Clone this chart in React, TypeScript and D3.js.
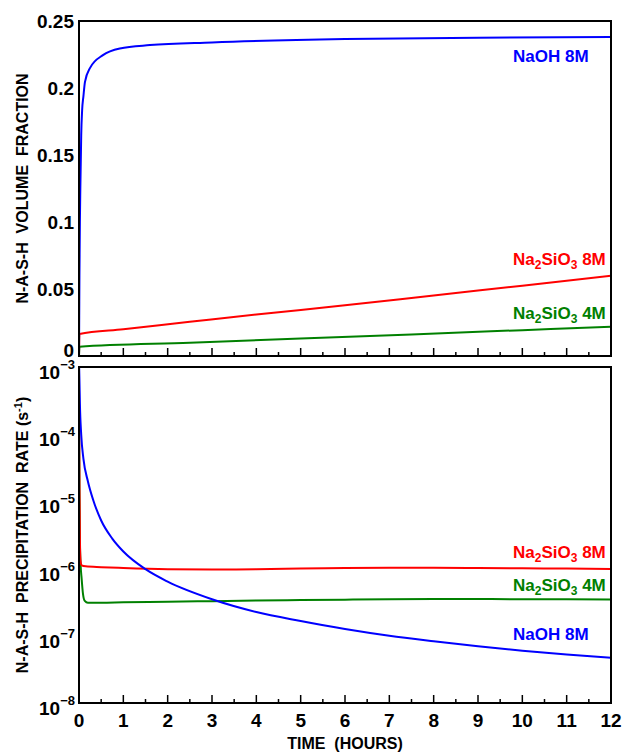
import React from "react";
import * as d3 from "d3";

// ---------- data ----------
const xTickValues = [0, 1, 2, 3, 4, 5, 6, 7, 8, 9, 10, 11, 12];
const xMinorValues = [0.5, 1.5, 2.5, 3.5, 4.5, 5.5, 6.5, 7.5, 8.5, 9.5, 10.5, 11.5];

const volTickValues = [0, 0.05, 0.1, 0.15, 0.2, 0.25];
const volTickLabels = ["0", "0.05", "0.1", "0.15", "0.2", "0.25"];

const rateTickValues = [1e-3, 1e-4, 1e-5, 1e-6, 1e-7, 1e-8];
const rateTickExponents = ["−3", "−4", "−5", "−6", "−7", "−8"];

// Volume fraction (top panel)
const naohVolTime = [0, 0.005, 0.01, 0.02, 0.03, 0.05, 0.07, 0.1, 0.135, 0.25, 0.54, 0.92, 1.6, 3, 6, 9, 12];
const naohVol = [0, 0.03, 0.06, 0.1, 0.125, 0.165, 0.183, 0.194, 0.2046, 0.215, 0.2245, 0.2295, 0.232, 0.234, 0.2365, 0.2375, 0.238];

const si8VolTime = [0, 0.01, 1, 2.5, 4, 6, 8, 10, 12];
const si8Vol = [0, 0.0164, 0.02, 0.0255, 0.031, 0.0378, 0.0452, 0.0525, 0.0599];

const si4VolTime = [0, 0.01, 2.5, 5, 7.5, 10, 12];
const si4Vol = [0, 0.0069, 0.0099, 0.013, 0.0161, 0.0193, 0.0219];

// Precipitation rate (bottom panel)
const naohRateTime = [0, 0.01, 0.02, 0.05, 0.1, 0.2, 0.32, 0.5, 0.75, 1, 1.5, 2, 3, 4, 5, 6, 7, 8, 9, 10, 11, 12];
const naohRate = [1.26e-3, 6.3e-4, 2.9e-4, 9.8e-5, 4.3e-5, 2.0e-5, 1.05e-5, 5.2e-6, 2.8e-6, 1.8e-6, 9.8e-7, 6.4e-7, 3.5e-7, 2.26e-7, 1.66e-7, 1.26e-7, 1.0e-7, 8.3e-8, 7.0e-8, 6.0e-8, 5.25e-8, 4.7e-8];

const si8RateTime = [0, 0.005, 0.01, 0.02, 0.035, 0.06, 0.15, 0.5, 1, 2, 3, 4, 5, 6, 7, 8, 9, 10, 11, 12];
const si8Rate = [5e-4, 1e-4, 1.8e-5, 3e-6, 1.3e-6, 1.12e-6, 1.08e-6, 1.05e-6, 1.02e-6, 9.8e-7, 9.7e-7, 9.8e-7, 1.0e-6, 1.02e-6, 1.03e-6, 1.03e-6, 1.02e-6, 1.01e-6, 1.0e-6, 9.9e-7];

const si4RateTime = [0, 0.005, 0.01, 0.02, 0.035, 0.06, 0.09, 0.13, 0.2, 0.5, 1, 2, 3, 4, 5, 6, 7, 8, 9, 10, 11, 12];
const si4Rate = [4e-4, 8e-5, 1.5e-5, 2.6e-6, 1.2e-6, 7e-7, 4.2e-7, 3.3e-7, 3.1e-7, 3.1e-7, 3.15e-7, 3.2e-7, 3.28e-7, 3.35e-7, 3.4e-7, 3.45e-7, 3.5e-7, 3.52e-7, 3.52e-7, 3.5e-7, 3.5e-7, 3.48e-7];

const BLUE = "#0000ff";
const RED = "#ff0000";
const GREEN = "#008000";

// ---------- layout ----------
const W = 623;
const H = 752;
const left = 79;
const right = 611;
const topA = 21;
const botA = 356;
const topB = 367;
const botB = 703;
const FONT = "'Liberation Sans', Arial, Helvetica, sans-serif";

const x = d3.scaleLinear().domain([0, 12]).range([left, right]);
const yVol = d3.scaleLinear().domain([0, 0.25]).range([botA, topA]);
const yRate = d3.scaleLog().domain([1e-8, 1e-3]).range([botB, topB]);

function zip(t: number[], v: number[]): [number, number][] {
  return t.map((ti, i) => [ti, v[i]]);
}

const lineVol = d3
  .line<[number, number]>()
  .x((d) => x(d[0]))
  .y((d) => yVol(d[1]))
  .curve(d3.curveMonotoneX);

const lineRate = d3
  .line<[number, number]>()
  .x((d) => x(d[0]))
  .y((d) => yRate(d[1]))
  .curve(d3.curveMonotoneX);

function Ticks({ y }: { y: number }) {
  return (
    <g stroke="#000" strokeWidth={1.5}>
      {xTickValues.map((t) => (
        <line key={"M" + t} x1={x(t)} x2={x(t)} y1={y} y2={y - 8} />
      ))}
      {xMinorValues.map((t) => (
        <line key={"m" + t} x1={x(t)} x2={x(t)} y1={y} y2={y - 4} />
      ))}
    </g>
  );
}

function SiLabel({ x0, y0, color, suffix }: { x0: number; y0: number; color: string; suffix: string }) {
  return (
    <text x={x0} y={y0} fill={color} fontSize={17} fontWeight="bold" fontFamily={FONT}>
      Na
      <tspan fontSize={12} dy={4}>2</tspan>
      <tspan dy={-4}>SiO</tspan>
      <tspan fontSize={12} dy={4}>3</tspan>
      <tspan dy={-4}>{" " + suffix}</tspan>
    </text>
  );
}

export default function App() {
  return (
    <svg
      width={W}
      height={H}
      viewBox={`0 0 ${W} ${H}`}
      style={{ position: "absolute", left: 0, top: 0, background: "#fff", display: "block" }}
    >
      <defs>
        <clipPath id="clipA">
          <rect x={left} y={topA} width={right - left} height={botA - topA} />
        </clipPath>
        <clipPath id="clipB">
          <rect x={left} y={topB} width={right - left} height={botB - topB} />
        </clipPath>
      </defs>
      <rect x={0} y={0} width={W} height={H} fill="#fff" />

      {/* ---------- top panel ---------- */}
      <g clipPath="url(#clipA)" fill="none" strokeWidth={2} strokeLinejoin="round">
        <path d={lineVol(zip(si4VolTime, si4Vol)) || ""} stroke={GREEN} />
        <path d={lineVol(zip(si8VolTime, si8Vol)) || ""} stroke={RED} />
        <path d={lineVol(zip(naohVolTime, naohVol)) || ""} stroke={BLUE} />
      </g>
      <Ticks y={botA} />
      <rect x={left} y={topA} width={right - left} height={botA - topA} fill="none" stroke="#000" strokeWidth={2} />
      {volTickValues.map((v, i) => (
        <text
          key={v}
          x={74}
          y={yVol(v) + (v === 0 ? 1 : 7)}
          textAnchor="end"
          fontSize={19}
          fontWeight="bold"
          fontFamily={FONT}
        >
          {volTickLabels[i]}
        </text>
      ))}
      <text
        transform={`translate(28,${(topA + botA) / 2}) rotate(-90)`}
        textAnchor="middle"
        fontSize={16}
        fontWeight="bold"
        fontFamily={FONT}
        style={{ whiteSpace: "pre" }}
      >
        {"N-A-S-H  VOLUME  FRACTION"}
      </text>
      <text x={513} y={62} fill={BLUE} fontSize={17} fontWeight="bold" fontFamily={FONT}>
        NaOH 8M
      </text>
      <SiLabel x0={513} y0={265} color={RED} suffix="8M" />
      <SiLabel x0={513} y0={319} color={GREEN} suffix="4M" />

      {/* ---------- bottom panel ---------- */}
      <g clipPath="url(#clipB)" fill="none" strokeWidth={2} strokeLinejoin="round">
        <path d={lineRate(zip(si4RateTime, si4Rate)) || ""} stroke={GREEN} />
        <path d={lineRate(zip(si8RateTime, si8Rate)) || ""} stroke={RED} />
        <path d={lineRate(zip(naohRateTime, naohRate)) || ""} stroke={BLUE} />
      </g>
      <Ticks y={botB} />
      <rect x={left} y={topB} width={right - left} height={botB - topB} fill="none" stroke="#000" strokeWidth={2} />
      {rateTickValues.map((v, i) => (
        <text key={v} x={75} y={yRate(v) + 12} textAnchor="end" fontSize={19} fontWeight="bold" fontFamily={FONT}>
          10
          <tspan fontSize={13} dy={-10}>{rateTickExponents[i]}</tspan>
        </text>
      ))}
      <text
        transform={`translate(28,${(topB + botB) / 2}) rotate(-90)`}
        textAnchor="middle"
        fontSize={16}
        fontWeight="bold"
        fontFamily={FONT}
        style={{ whiteSpace: "pre" }}
      >
        {"N-A-S-H  PRECIPITATION  RATE ("}
        <tspan>s</tspan>
        <tspan fontSize={11} dy={-6}>-1</tspan>
        <tspan dy={6}>)</tspan>
      </text>
      <text x={513} y={640} fill={BLUE} fontSize={17} fontWeight="bold" fontFamily={FONT}>
        NaOH 8M
      </text>
      <SiLabel x0={513} y0={558} color={RED} suffix="8M" />
      <SiLabel x0={513} y0={591} color={GREEN} suffix="4M" />

      {/* ---------- x axis labels ---------- */}
      {xTickValues.map((t) => (
        <text key={t} x={x(t)} y={727} textAnchor="middle" fontSize={19} fontWeight="bold" fontFamily={FONT}>
          {t}
        </text>
      ))}
      <text
        x={(left + right) / 2}
        y={749}
        textAnchor="middle"
        fontSize={16}
        fontWeight="bold"
        fontFamily={FONT}
        style={{ whiteSpace: "pre" }}
      >
        {"TIME  (HOURS)"}
      </text>
    </svg>
  );
}
